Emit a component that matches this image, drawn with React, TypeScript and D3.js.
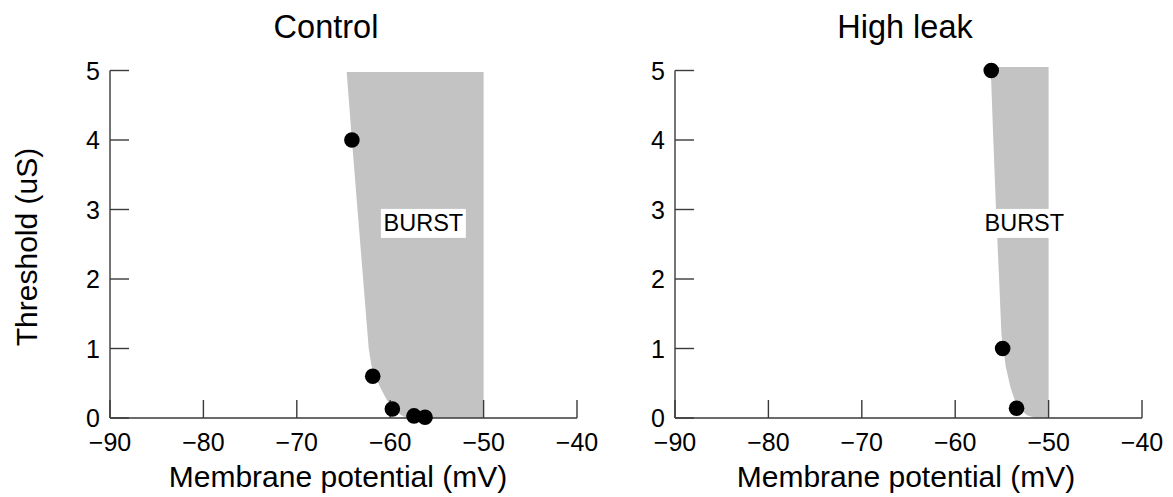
import React from "react";
import * as d3 from "d3";

// ---- data ----
const xTicks = [-90, -80, -70, -60, -50, -40];
const yTicks = [0, 1, 2, 3, 4, 5];
const panelTitles = ["Control", "High leak"];

// Control panel
const controlV = [-64.1, -61.87, -59.77, -57.45, -56.27];
const controlT = [4, 0.6, 0.13, 0.03, 0.01];
const controlBoundaryV = [-64.66, -64.1, -63.5, -62.9, -62.3, -62.0, -61.6, -61.1, -60.6, -60.1, -59.4, -58.8, -58.2];
const controlBoundaryT = [4.98, 4, 3, 2, 1, 0.75, 0.6, 0.45, 0.32, 0.2, 0.1, 0.04, 0];
const controlBurstV = -56.45;
const controlBurstT = 2.8;

// High leak panel
const leakV = [-56.14, -54.92, -53.43];
const leakT = [5, 1, 0.14];
const leakBoundaryV = [-56.2, -55.92, -55.63, -55.3, -55.05, -54.6, -54.1, -53.6, -53.0, -52.3, -51.4];
const leakBoundaryT = [5.05, 4, 3, 2, 1.2, 0.75, 0.45, 0.25, 0.12, 0.04, 0];
const leakBurstV = -52.6;
const leakBurstT = 2.8;

const burstRight = -50;

const FONT = "'Liberation Sans', Arial, Helvetica, sans-serif";
const AXIS = "#3a3a3a";
const SHADE = "#c3c3c3";

type PanelProps = {
  x0: number;
  title: string;
  titleX: number;
  labelX: number;
  pv: number[];
  pt: number[];
  bv: number[];
  bt: number[];
  burstV: number;
  burstT: number;
};

function Panel({ x0, title, titleX, labelX, pv, pt, bv, bt, burstV, burstT }: PanelProps) {
  const x = d3.scaleLinear().domain([-90, -40]).range([x0, x0 + 467]);
  const y = d3.scaleLinear().domain([0, 5]).range([418, 70.5]);
  const pts: [number, number][] = bv.map((v, i) => [v, bt[i]]);
  const area = d3
    .area<[number, number]>()
    .x0((d) => x(d[0]))
    .x1(() => x(burstRight))
    .y((d) => y(d[1]));
  const bx = x(burstV);
  const by = y(burstT);
  return (
    <g>
      <text x={titleX} y={38} textAnchor="middle" fontSize={32.5} fontFamily={FONT} fill="#000">
        {title}
      </text>
      <path d={area(pts) || ""} fill={SHADE} />
      <rect x={bx - 42.5} y={by - 14.5} width={85} height={29} fill="#fff" />
      <text x={bx} y={by + 8} textAnchor="middle" fontSize={23.5} fontFamily={FONT} fill="#000">
        BURST
      </text>
      {/* axes */}
      <line x1={x(-90)} x2={x(-40)} y1={y(0)} y2={y(0)} stroke={AXIS} strokeWidth={1.4} />
      <line x1={x(-90)} x2={x(-90)} y1={y(0)} y2={y(5)} stroke={AXIS} strokeWidth={1.4} />
      {xTicks.map((t) => (
        <g key={"xt" + t}>
          <line x1={x(t)} x2={x(t)} y1={y(0)} y2={y(0) - 18} stroke={AXIS} strokeWidth={1.4} />
          <text x={x(t)} y={451} textAnchor="middle" fontSize={25} fontFamily={FONT} fill="#000">
            {"\u2212" + Math.abs(t)}
          </text>
        </g>
      ))}
      {yTicks.map((t) => (
        <g key={"yt" + t}>
          <line x1={x(-90)} x2={x(-90) + 19} y1={y(t)} y2={y(t)} stroke={AXIS} strokeWidth={1.4} />
          <text x={x(-90) - 10} y={y(t) + 9} textAnchor="end" fontSize={25} fontFamily={FONT} fill="#000">
            {t}
          </text>
        </g>
      ))}
      <text x={labelX} y={487} textAnchor="middle" fontSize={30} fontFamily={FONT} fill="#000">
        Membrane potential (mV)
      </text>
      {pv.map((v, i) => (
        <circle key={"p" + i} cx={x(v)} cy={y(pt[i])} r={7.8} fill="#000" />
      ))}
    </g>
  );
}

export default function App() {
  return (
    <svg
      width={1173}
      height={497}
      style={{ position: "absolute", left: 0, top: 0, background: "#fff" }}
    >
      <rect width={1173} height={497} fill="#fff" />
      <text
        transform="translate(37,247) rotate(-90)"
        textAnchor="middle"
        fontSize={30}
        fontFamily={FONT}
        fill="#000"
      >
        Threshold (uS)
      </text>
      <Panel
        x0={110}
        title={panelTitles[0]}
        titleX={326}
        labelX={338}
        pv={controlV}
        pt={controlT}
        bv={controlBoundaryV}
        bt={controlBoundaryT}
        burstV={controlBurstV}
        burstT={controlBurstT}
      />
      <Panel
        x0={675}
        title={panelTitles[1]}
        titleX={905}
        labelX={906}
        pv={leakV}
        pt={leakT}
        bv={leakBoundaryV}
        bt={leakBoundaryT}
        burstV={leakBurstV}
        burstT={leakBurstT}
      />
    </svg>
  );
}
